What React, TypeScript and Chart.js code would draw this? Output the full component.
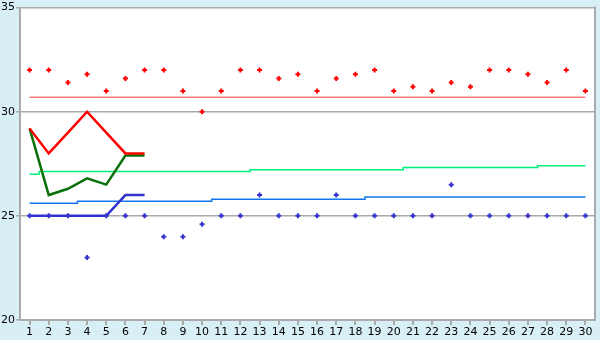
import React, { useEffect, useRef } from "react";
import { Chart, registerables } from "chart.js";

Chart.register(...registerables);

const days = ["1","2","3","4","5","6","7","8","9","10","11","12","13","14","15","16","17","18","19","20","21","22","23","24","25","26","27","28","29","30"];

const redPoints = [32, 32, 31.4, 31.8, 31, 31.6, 32, 32, 31, 30, 31, 32, 32, 31.6, 31.8, 31, 31.6, 31.8, 32, 31, 31.2, 31, 31.4, 31.2, 32, 32, 31.8, 31.4, 32, 31];
const bluePoints = [25, 25, 25, 23, 25, 25, 25, 24, 24, 24.6, 25, 25, 26, 25, 25, 25, 26, 25, 25, 25, 25, 25, 26.5, 25, 25, 25, 25, 25, 25, 25];

const redLine = [29.2, 28, 29, 30, 29, 28, 28];
const greenLine = [29.2, 26, 26.3, 26.8, 26.5, 27.9, 27.9];
const blueLine = [25, 25, 25, 25, 25, 26, 26];

const redMean = [30.7, 30.7, 30.7, 30.7, 30.7, 30.7, 30.7, 30.7, 30.7, 30.7, 30.7, 30.7, 30.7, 30.7, 30.7, 30.7, 30.7, 30.7, 30.7, 30.7, 30.7, 30.7, 30.7, 30.7, 30.7, 30.7, 30.7, 30.7, 30.7, 30.7];
const greenMean = [27.0, 27.13, 27.13, 27.13, 27.13, 27.13, 27.13, 27.13, 27.13, 27.13, 27.13, 27.13, 27.22, 27.22, 27.22, 27.22, 27.22, 27.22, 27.22, 27.22, 27.32, 27.32, 27.32, 27.32, 27.32, 27.32, 27.32, 27.41, 27.41, 27.41];
const blueMean = [25.6, 25.6, 25.6, 25.7, 25.7, 25.7, 25.7, 25.7, 25.7, 25.7, 25.8, 25.8, 25.8, 25.8, 25.8, 25.8, 25.8, 25.8, 25.9, 25.9, 25.9, 25.9, 25.9, 25.9, 25.9, 25.9, 25.9, 25.9, 25.9, 25.9];

const yMin = 20;
const yMax = 35;
const yStep = 5;

const GRID = "#aaaaaa";
const FONT = { family: "DejaVu Sans", size: 11 };

const bgPlugin = {
  id: "bgPlugin",
  beforeDraw(chart: any) {
    const { ctx, chartArea } = chart;
    const { left, top, right, bottom } = chartArea;
    ctx.save();
    ctx.fillStyle = "#d9eff6";
    ctx.fillRect(0, 0, chart.width, chart.height);
    ctx.fillStyle = "#ffffff";
    ctx.fillRect(left, top, right - left, bottom - top);
    ctx.restore();
  },
  beforeDatasetsDraw(chart: any) {
    const { ctx, chartArea } = chart;
    const { top, right, bottom } = chartArea;
    ctx.save();
    ctx.strokeStyle = GRID;
    ctx.lineWidth = 2;
    ctx.beginPath();
    ctx.moveTo(right, top - 1);
    ctx.lineTo(right, bottom + 1);
    ctx.stroke();
    ctx.restore();
  },
};

export default function App() {
  const ref = useRef<HTMLCanvasElement | null>(null);

  useEffect(() => {
    document.body.style.margin = "0";
    const canvas = ref.current;
    if (!canvas) return;

    const scatter = (data: number[], color: string) => ({
      data,
      showLine: false,
      borderColor: color,
      backgroundColor: color,
      pointStyle: "cross",
      pointRadius: 2.5,
      pointBorderWidth: 2,
      pointHoverRadius: 2.5,
    });
    const thick = (data: number[], color: string) => ({
      data,
      borderColor: color,
      backgroundColor: color,
      borderWidth: 2.5,
      pointRadius: 0,
      spanGaps: false,
    });
    const mean = (data: number[], color: string) => ({
      data,
      borderColor: color,
      backgroundColor: color,
      borderWidth: 1.5,
      pointRadius: 0,
      stepped: "middle",
    });

    const chart = new Chart(canvas, {
      type: "line",
      data: {
        labels: days,
        datasets: [
          scatter(redPoints, "#ff0000"),
          scatter(bluePoints, "#3333cc"),
          thick(redLine, "#ff0000"),
          thick(greenLine, "#087008"),
          thick(blueLine, "#3333cc"),
          mean(redMean, "#f08080"),
          mean(greenMean, "#00f07a"),
          mean(blueMean, "#1177ee"),
        ] as any,
      },
      plugins: [bgPlugin],
      options: {
        animation: false,
        responsive: false,
        maintainAspectRatio: false,
        layout: { padding: { top: 5, right: 5, left: 0, bottom: 0 } },
        plugins: { legend: { display: false }, tooltip: { enabled: false } },
        scales: {
          x: {
            type: "category",
            offset: true,
            grid: {
              drawOnChartArea: false,
              drawTicks: true,
              color: GRID,
              lineWidth: 2,
              tickLength: 5,
              offset: false,
            },
            border: { color: GRID, width: 2 },
            ticks: { color: "#000", font: FONT, padding: 1, maxRotation: 0, autoSkip: false },
            afterFit(s: any) {
              s.height = 20;
            },
          },
          y: {
            min: yMin,
            max: yMax,
            grid: { color: GRID, lineWidth: 1.5, tickLength: 4, drawTicks: true },
            border: { color: GRID, width: 2 },
            ticks: { stepSize: yStep, color: "#000", font: FONT, padding: 1 },
            afterFit(s: any) {
              s.width = 20;
            },
          },
        },
      } as any,
    });

    return () => chart.destroy();
  }, []);

  return (
    <div style={{ width: 600, height: 340 }}>
      <canvas ref={ref} width={600} height={340} style={{ display: "block" }} />
    </div>
  );
}
